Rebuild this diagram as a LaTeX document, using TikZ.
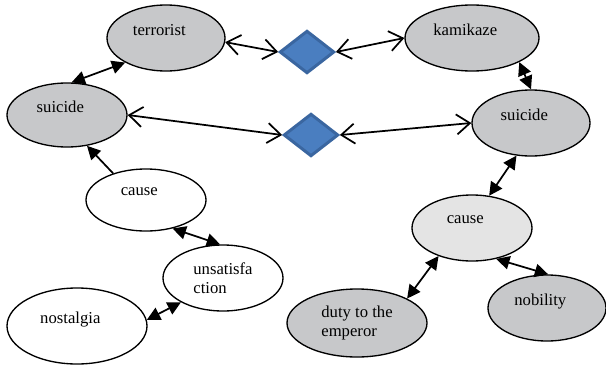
\documentclass[tikz,border=0pt]{standalone}
\usepackage{fontspec}
\setmainfont{Liberation Serif}
\usepackage{xcolor}
\usetikzlibrary{shapes.geometric, arrows.meta}

\begin{document}
\begin{tikzpicture}[x=0.75pt,y=0.75pt,yscale=-1,xscale=1,
    concept/.style={ellipse, draw, line width=1pt, inner sep=0pt, font=\fontsize{12.5}{14.5}\selectfont},
    word/.style={concept, text depth=12pt, execute at end node={\hspace*{10pt}}},
    darkfill/.style={fill={rgb, 255:red, 199; green, 200; blue, 202}},
    lightfill/.style={fill={rgb, 255:red, 228; green, 228; blue, 228}},
    link/.style={draw={rgb, 255:red, 58; green, 102; blue, 160}, line width=2.25pt, fill={rgb, 255:red, 74; green, 126; blue, 192}, diamond, inner sep=0pt, minimum width=41pt, minimum height=32pt},
    openarr/.style={line width=1.3pt, {Straight Barb[length=10pt,width=15pt]}-{Straight Barb[length=10pt,width=15pt]}},
    fillarr/.style={line width=1.3pt, {Triangle[length=10pt,width=10pt]}-{Triangle[length=10pt,width=10pt]}},
    onearr/.style={line width=1.3pt, -{Triangle[length=10pt,width=10pt]}}]
    \useasboundingbox (0,0) rectangle (606,364);

    % Grey ellipses
    \node [word, darkfill, minimum width=88.5pt, minimum height=49.5pt] (terrorist) at (166,38) {terrorist};
    \node [word, darkfill, minimum width=90pt, minimum height=48pt] (suicideL) at (67,115) {suicide};
    \node [word, darkfill, minimum width=100.5pt, minimum height=49.5pt] (kamikaze) at (472,38) {kamikaze};
    \node [word, darkfill, minimum width=88.5pt, minimum height=49.5pt] (suicideR) at (531,123) {suicide};
    \node [concept, darkfill, align=left, minimum width=105pt, minimum height=51pt] (duty) at (357,323) {duty to the\\emperor};
    \node [word, darkfill, minimum width=88.5pt, minimum height=49.5pt] (nobility) at (547,308) {nobility};
    % Light ellipse
    \node [word, lightfill, minimum width=90pt, minimum height=49.5pt] (causeR) at (472,228) {cause};
    % White ellipses
    \node [word, fill=white, minimum width=90pt, minimum height=46.5pt] (causeL) at (146,200) {cause};
    \node [concept, fill=white, align=left, minimum width=90pt, minimum height=49.5pt] (unsat) at (223,278) {unsatisfa\\ction};
    \node [word, fill=white, minimum width=105pt, minimum height=57pt] (nostalgia) at (77,326) {nostalgia};

    % Diamonds
    \node [link] (topdia) at (307,52) {};
    \node [link] (botdia) at (311,135) {};

    % Open arrows
    \draw [openarr] (terrorist.-4) -- (topdia.west);
    \draw [openarr] (topdia.east) -- (kamikaze.west);
    \draw [openarr] (suicideL.east) -- (botdia.west);
    \draw [openarr] (botdia.east) -- (suicideR.west);

    % Filled arrows
    \draw [fillarr] (suicideL.82) -- (terrorist.211);
    \draw [fillarr] (kamikaze.-27) -- (suicideR.90);
    \draw [onearr] (causeL.141) -- (suicideL.-57);
    \draw [fillarr] (causeL.-47) -- (unsat.95);
    \draw [fillarr] (nostalgia.5) -- (unsat.210);
    \draw [fillarr] (suicideR.246) -- (causeR.62);
    \draw [fillarr] (causeR.220) -- (duty.26);
    \draw [fillarr] (causeR.-52) -- (nobility.88);

\end{tikzpicture}
\end{document}
